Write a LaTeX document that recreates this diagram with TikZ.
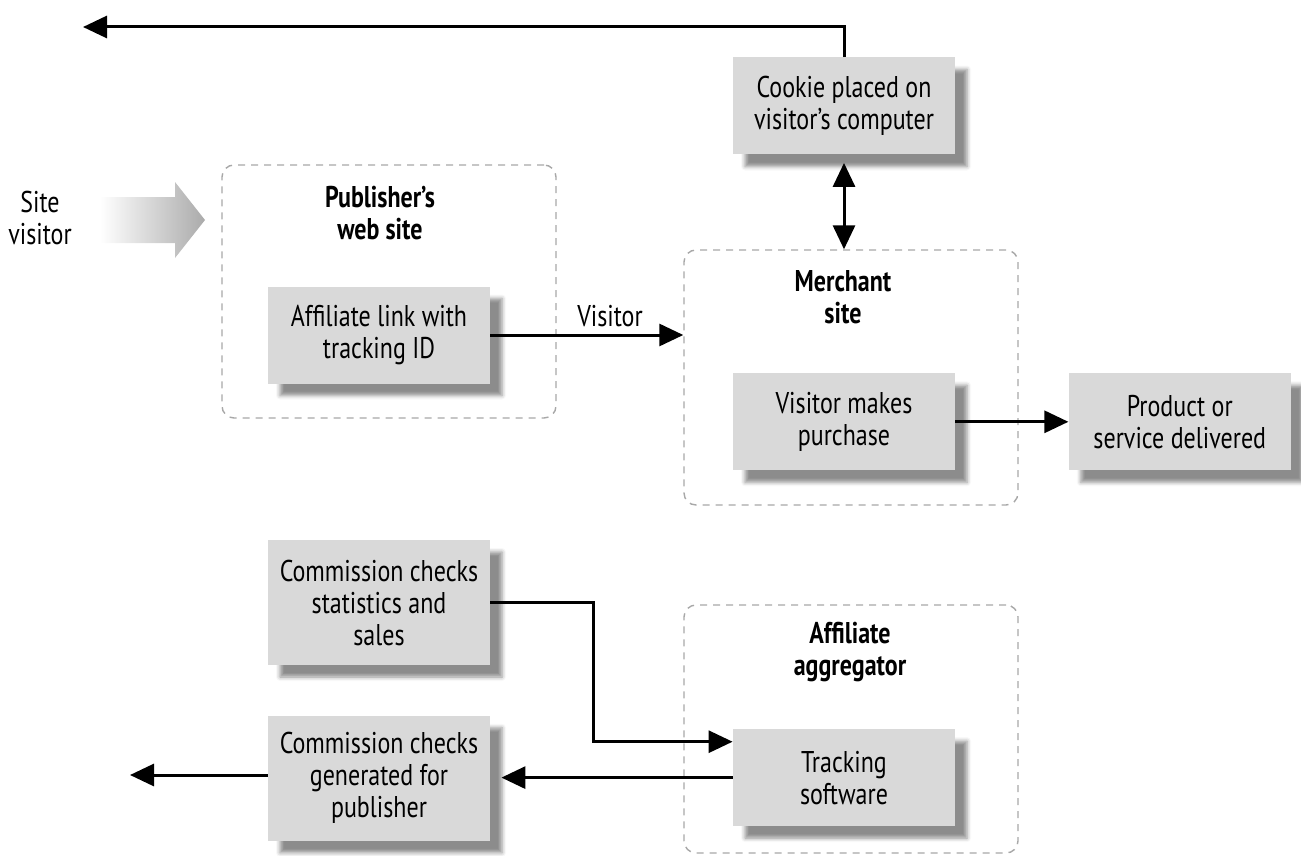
\documentclass[tikz,border=0pt]{standalone}
\usepackage{fontspec}
\setmainfont{PT Sans}[FakeStretch=0.8]
\usetikzlibrary{
  arrows.meta,
  positioning,
  shadows.blur
}

\definecolor{boxgray}{HTML}{D9D9D9}
\definecolor{framegray}{HTML}{A8A8A8}

\begin{document}
\begin{tikzpicture}[
  x=0.5pt, y=-0.5pt,
  node distance=25pt and 56.5pt,
  font=\fontsize{15pt}{16pt}\selectfont,
  box/.style={
    fill=boxgray,
    align=center,
    inner sep=2pt,
    minimum width=111pt,
    minimum height=48.5pt,
    blur shadow={
      shadow xshift=6pt,
      shadow yshift=-6pt,
      shadow blur radius=2pt,
      shadow opacity=45
    }
  },
  tallbox/.style={
    box,
    minimum height=62.5pt
  },
  frame/.style={
    draw=framegray,
    dash pattern=on 3.5pt off 3pt,
    line width=0.7pt,
    rounded corners=6pt,
    minimum width=167pt
  },
  title/.style={
    align=center,
    font=\fontsize{15pt}{16pt}\selectfont\bfseries
  },
  arrow/.style={
    -{Triangle[length=12pt,width=11pt]},
    line width=1.5pt
  },
  dblarrow/.style={
    {Triangle[length=12pt,width=11pt]}-{Triangle[length=12pt,width=11pt]},
    line width=1.5pt
  }
]
\useasboundingbox (0,0) rectangle (1301,856);

% containers
\node[frame,minimum height=126.5pt] (pubfrm) at (389,291.5) {};
\node[frame,minimum height=127.5pt] (merchfrm) at (851,377.5) {};
\node[frame,minimum height=124pt] (aggfrm) at (851,729) {};

\node[title] (pubtitle) at (380,213) {Publisher’s\\web site};
\node[title] (merchtitle) at (843,297) {Merchant\\site};
\node[title] (aggtitle) at (850,652) {Affiliate\\aggregator};

% boxes
\node[box] (cookie) at (844,106) {Cookie placed on\\visitor’s computer};
\node[box] (link) at (379,335) {Affiliate link with\\tracking ID};
\node[box,below=109pt of cookie] (purchase) {Visitor makes\\purchase};
\node[box,right=of purchase] (product) {Product or\\service delivered};
\node[box,below=129pt of purchase] (tracking) {Tracking\\software};
\node[tallbox] (stats) at (379,602.5) {Commission checks\\statistics and\\sales};
\node[tallbox,below=of stats] (generated) {Commission checks\\generated for\\publisher};

% site visitor coming in
\node[align=center] (visitor) at (40,218) {Site\\visitor};
\shade[left color=white,right color=black!33]
  (100,197) -- (175,197) -- (175,182) -- (205,220)
  -- (175,258) -- (175,243) -- (100,243) -- cycle;

\coordinate (exit) at (83,27);
\coordinate (payout) at (130,775);

% connectors
\draw[arrow] (cookie.north) |- (exit);
\draw[dblarrow] ([yshift=-4pt]cookie.south) -- (cookie.south |- merchfrm.north);
\draw[arrow] (link) -- node[above,pos=0.62]{Visitor} (link -| merchfrm.west);
\draw[arrow] (purchase) -- (product);
\draw[arrow] (stats.east) -- ([xshift=51.5pt]stats.east)
  |- ([yshift=-6.5pt]tracking.north west);
\draw[arrow] (tracking.west) -- ([xshift=5.5pt]generated.east |- tracking.west);
\draw[arrow] (generated.west |- payout) -- (payout);

\end{tikzpicture}
\end{document}
